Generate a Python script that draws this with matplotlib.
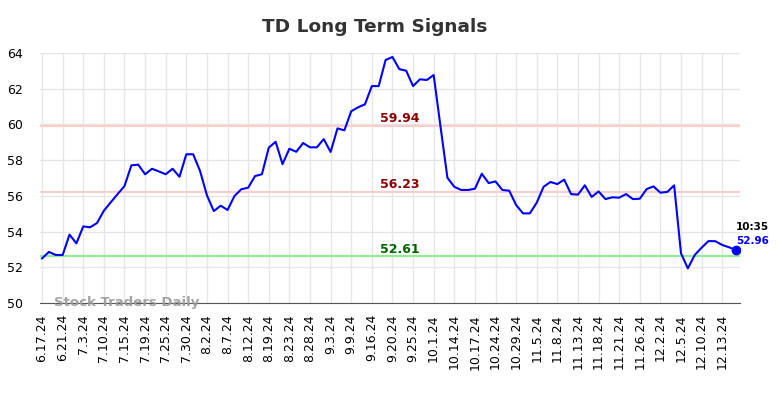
"""
TD long term signals chart.
"""

import matplotlib
matplotlib.use('Agg')
import matplotlib.pyplot as plt
import numpy as np

# Daily values
prices = [52.50, 52.86, 52.69, 52.69, 53.83, 53.34, 54.29, 54.24, 54.48, 55.17,
          55.64, 56.10, 56.55, 57.71, 57.75, 57.21, 57.52, 57.37, 57.21, 57.52,
          57.07, 58.33, 58.33, 57.39, 56.03, 55.15, 55.45, 55.21, 55.99, 56.37,
          56.46, 57.11, 57.21, 58.70, 59.03, 57.78, 58.64, 58.47, 58.96, 58.72,
          58.72, 59.18, 58.46, 59.78, 59.67, 60.74, 60.96, 61.13, 62.15, 62.15,
          63.61, 63.78, 63.10, 63.01, 62.15, 62.53, 62.49, 62.77, 59.87, 57.02,
          56.51, 56.33, 56.33, 56.40, 57.24, 56.72, 56.81, 56.33, 56.29, 55.49,
          55.02, 55.02, 55.62, 56.51, 56.78, 56.66, 56.91, 56.10, 56.07, 56.59,
          55.94, 56.25, 55.82, 55.92, 55.90, 56.10, 55.82, 55.84, 56.38, 56.53,
          56.18, 56.22, 56.59, 52.78, 51.94, 52.69, 53.10, 53.47, 53.46, 53.25,
          53.12, 52.96]

tick_labels = ['6.17.24', '6.21.24', '7.3.24', '7.10.24', '7.15.24', '7.19.24',
               '7.25.24', '7.30.24', '8.2.24', '8.7.24', '8.12.24', '8.19.24',
               '8.23.24', '8.28.24', '9.3.24', '9.9.24', '9.16.24', '9.20.24',
               '9.25.24', '10.1.24', '10.14.24', '10.17.24', '10.24.24', '10.29.24',
               '11.5.24', '11.8.24', '11.13.24', '11.18.24', '11.21.24', '11.26.24',
               '12.2.24', '12.5.24', '12.10.24', '12.13.24']

upper_signal = 59.94
mid_signal = 56.23
lower_signal = 52.61
last_time = '10:35'

fig = plt.figure(figsize=(7.84, 3.98), dpi=100)
ax = fig.add_axes([0.051, 0.2387, 0.893, 0.628])

x = np.arange(len(prices))

# Signal lines
ax.axhline(upper_signal, color='#ffcccc', lw=1.5, zorder=2)
ax.axhline(mid_signal, color='#ffcccc', lw=1.5, zorder=2)
ax.axhline(lower_signal, color='#90ee90', lw=1.5, zorder=2)

label_x = 52
ax.text(label_x, upper_signal + 0.05, f'{upper_signal:.2f}', color='#8b0000',
        fontsize=9, fontweight='bold', ha='center', va='bottom')
ax.text(label_x, mid_signal + 0.05, f'{mid_signal:.2f}', color='#8b0000',
        fontsize=9, fontweight='bold', ha='center', va='bottom')
ax.text(label_x, lower_signal + 0.05, f'{lower_signal:.2f}', color='#006400',
        fontsize=9, fontweight='bold', ha='center', va='bottom')

# Price line
ax.plot(x, prices, color='#0000ff', lw=1.5, zorder=3)
ax.plot(x[-1], prices[-1], 'o', color='#0000ff', ms=6, zorder=4)
ax.text(x[-1], prices[-1] + 1.0, last_time, color='black', fontsize=7.5,
        fontweight='bold', ha='left', va='bottom')
ax.text(x[-1], prices[-1] + 0.25, f'{prices[-1]:.2f}', color='#0000ff', fontsize=7.5,
        fontweight='bold', ha='left', va='bottom')

# Watermark
ax.text(1.7, 50.05, 'Stock Traders Daily', color='#999999', fontsize=9.5,
        fontweight='bold', ha='left', va='center', alpha=0.9)

# Format axes and labels
ax.set_xlim(-0.3, 101.6)
ax.set_ylim(50, 64)
ax.set_yticks(np.arange(50, 65, 2))
ax.set_xticks(np.arange(0, len(tick_labels) * 3, 3))
ax.set_xticklabels(tick_labels, rotation=90, fontsize=9)
ax.tick_params(axis='y', labelsize=9, length=0, pad=12)
ax.tick_params(axis='x', length=0, pad=8)
ax.grid(True, color='#e6e6e6', lw=1)
ax.set_axisbelow(True)
for side in ['top', 'right', 'left']:
    ax.spines[side].set_visible(False)
ax.spines['bottom'].set_color('#555555')

fig.suptitle('TD Long Term Signals', x=0.478, y=0.955, fontsize=13.3,
             fontweight='bold', color='#333333')

fig.savefig('out.png', dpi=100)
